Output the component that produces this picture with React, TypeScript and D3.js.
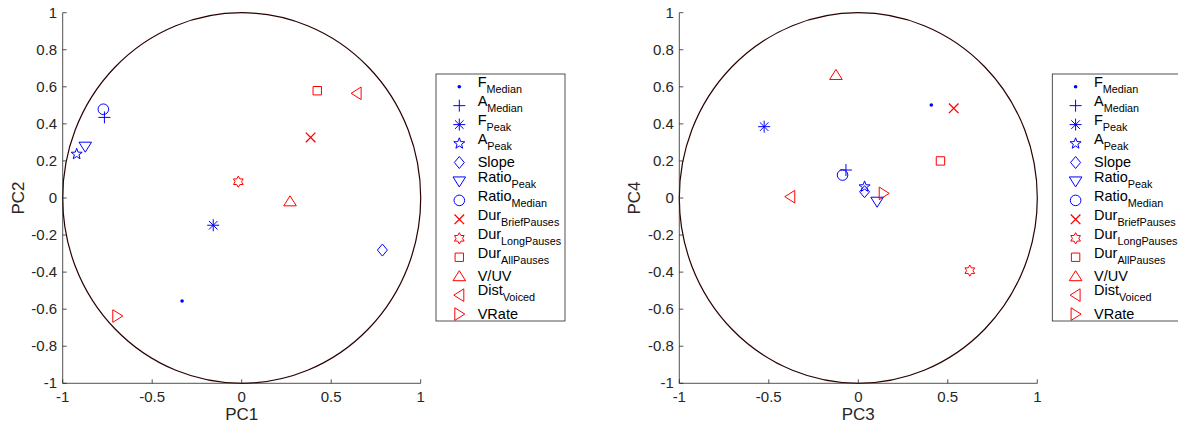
import * as d3 from 'd3';

// variable names (base + subscript) and their styles
const names = ['F', 'A', 'F', 'A', 'Slope', 'Ratio', 'Ratio', 'Dur', 'Dur', 'Dur', 'V/UV', 'Dist', 'VRate'];
const subs = ['Median', 'Median', 'Peak', 'Peak', '', 'Peak', 'Median', 'BriefPauses', 'LongPauses', 'AllPauses', '', 'Voiced', ''];
const markers = ['point', 'plus', 'asterisk', 'pentagram', 'diamond', 'triangleDown', 'circle', 'x', 'hexagram', 'square', 'triangleUp', 'triangleLeft', 'triangleRight'];
const groups = ['f', 'f', 'f', 'f', 'f', 'f', 'f', 'p', 'p', 'p', 'p', 'p', 'p'];

// loadings
const pc1 = [-0.333, -0.767, -0.159, -0.922, 0.786, -0.874, -0.773, 0.385, -0.019, 0.422, 0.270, 0.642, -0.695];
const pc2 = [-0.556, 0.435, -0.147, 0.237, -0.281, 0.277, 0.479, 0.327, 0.088, 0.579, -0.018, 0.565, -0.637];
const pc3 = [0.408, -0.069, -0.526, 0.035, 0.035, 0.105, -0.088, 0.533, 0.623, 0.459, -0.125, -0.380, 0.142];
const pc4 = [0.502, 0.151, 0.385, 0.061, 0.034, -0.020, 0.124, 0.484, -0.392, 0.200, 0.664, 0.007, 0.025];

const ticks = [-1, -0.5, 0, 0.5, 1];
const yTicks = [-1, -0.8, -0.6, -0.4, -0.2, 0, 0.2, 0.4, 0.6, 0.8, 1];

const color = d3.scaleOrdinal<string, string>().domain(['f', 'p']).range(['#0000ff', '#ff0000']);
const axisColor = '#262626';
const font = '"Liberation Sans", Arial, Helvetica, sans-serif';

function starPath(n: number, ro: number, ri: number) {
  const pts: [number, number][] = [];
  for (let i = 0; i < n * 2; i++) {
    const a = -Math.PI / 2 + (i * Math.PI) / n;
    const r = i % 2 === 0 ? ro : ri;
    pts.push([r * Math.cos(a), r * Math.sin(a)]);
  }
  return 'M' + pts.map(p => p.join(',')).join('L') + 'Z';
}

function markerPath(m: string) {
  switch (m) {
    case 'plus': return 'M-6,0H6M0,-6V6';
    case 'asterisk': return 'M-6,0H6M0,-6V6M-4.3,-4.3L4.3,4.3M-4.3,4.3L4.3,-4.3';
    case 'x': return 'M-4.8,-4.8L4.8,4.8M-4.8,4.8L4.8,-4.8';
    case 'diamond': return 'M0,-6L5,0L0,6L-5,0Z';
    case 'square': return 'M-4.2,-4.2H4.2V4.2H-4.2Z';
    case 'triangleUp': return 'M0,-5.5L6.3,4.5L-6.3,4.5Z';
    case 'triangleDown': return 'M0,5.5L6.3,-4.5L-6.3,-4.5Z';
    case 'triangleLeft': return 'M-5.5,0L4.5,-6.3L4.5,6.3Z';
    case 'triangleRight': return 'M5.5,0L-4.5,-6.3L-4.5,6.3Z';
    case 'pentagram': return starPath(5, 5.8, 2.4);
    case 'hexagram': return starPath(6, 5.6, 3.2);
    default: return '';
  }
}

function Marker({ m, x, y, c }: { m: string; x: number; y: number; c: string }) {
  if (m === 'point') return <circle cx={x} cy={y} r={1.8} fill={c} />;
  if (m === 'circle') return <circle cx={x} cy={y} r={5.3} fill="none" stroke={c} strokeWidth={1} />;
  return (
    <path d={markerPath(m)} transform={`translate(${x},${y})`} fill="none" stroke={c}
      strokeWidth={m === 'x' ? 1.3 : 1} />
  );
}

function Panel({ left, xs, ys, xLabel, yLabel, legendX }: {
  left: number; xs: number[]; ys: number[]; xLabel: string; yLabel: string; legendX: number;
}) {
  const x = d3.scaleLinear().domain([-1, 1]).range([left, left + 358]);
  const y = d3.scaleLinear().domain([-1, 1]).range([383.3, 12.7]);
  const legendTop = 74;
  const rowH = 18.95;
  return (
    <g>
      {/* unit circle */}
      <ellipse cx={x(0)} cy={y(0)} rx={x(1) - x(0)} ry={y(0) - y(1)} fill="none" stroke="#2a0000" strokeWidth={1.2} />
      {/* axes */}
      <line x1={x(-1)} x2={x(1)} y1={y(-1)} y2={y(-1)} stroke={axisColor} strokeWidth={0.8} />
      <line x1={x(-1)} x2={x(-1)} y1={y(-1)} y2={y(1)} stroke={axisColor} strokeWidth={0.8} />
      {ticks.map(t => (
        <g key={'x' + t}>
          <line x1={x(t)} x2={x(t)} y1={y(-1)} y2={y(-1) - 4} stroke={axisColor} strokeWidth={0.8} />
          <text x={x(t)} y={401.5} textAnchor="middle" fontSize={15} fill={axisColor}>{t}</text>
        </g>
      ))}
      {yTicks.map(t => (
        <g key={'y' + t}>
          <line x1={x(-1)} x2={x(-1) + 4} y1={y(t)} y2={y(t)} stroke={axisColor} strokeWidth={0.8} />
          <text x={x(-1) - 5.5} y={y(t) + 5} textAnchor="end" fontSize={15} fill={axisColor}>{t}</text>
        </g>
      ))}
      <text x={x(0)} y={420} textAnchor="middle" fontSize={17} fill={axisColor}>{xLabel}</text>
      <text transform={`translate(${x(-1) - 39},${y(0)}) rotate(-90)`} textAnchor="middle" fontSize={17} fill={axisColor}>{yLabel}</text>
      {/* points */}
      {xs.map((v, i) => (
        <Marker key={i} m={markers[i]} x={x(v)} y={y(ys[i])} c={color(groups[i])} />
      ))}
      {/* legend */}
      <rect x={legendX} y={legendTop} width={129} height={247} fill="#fff" stroke={axisColor} strokeWidth={0.8} />
      {names.map((n, i) => {
        const cy = legendTop + 12.7 + i * rowH;
        return (
          <g key={'l' + i}>
            <Marker m={markers[i]} x={legendX + 23.3} y={cy} c={color(groups[i])} />
            {subs[i] ? (
              <text x={legendX + 41.7} y={cy + 0.3} fontSize={14.5} fill="#000">
                {n}
                <tspan dy={6} fontSize={10.8}>{subs[i]}</tspan>
              </text>
            ) : (
              <text x={legendX + 41.7} y={cy + 4.8} fontSize={14.5} fill="#000">{n}</text>
            )}
          </g>
        );
      })}
    </g>
  );
}

export default function App() {
  return (
    <svg width={1178} height={425} style={{ position: 'absolute', left: 0, top: 0, background: '#fff' }} fontFamily={font}>
      <rect width={1178} height={425} fill="#fff" />
      <Panel left={62.7} xs={pc1} ys={pc2} xLabel="PC1" yLabel="PC2" legendX={436} />
      <Panel left={679.3} xs={pc3} ys={pc4} xLabel="PC3" yLabel="PC4" legendX={1052.3} />
    </svg>
  );
}
